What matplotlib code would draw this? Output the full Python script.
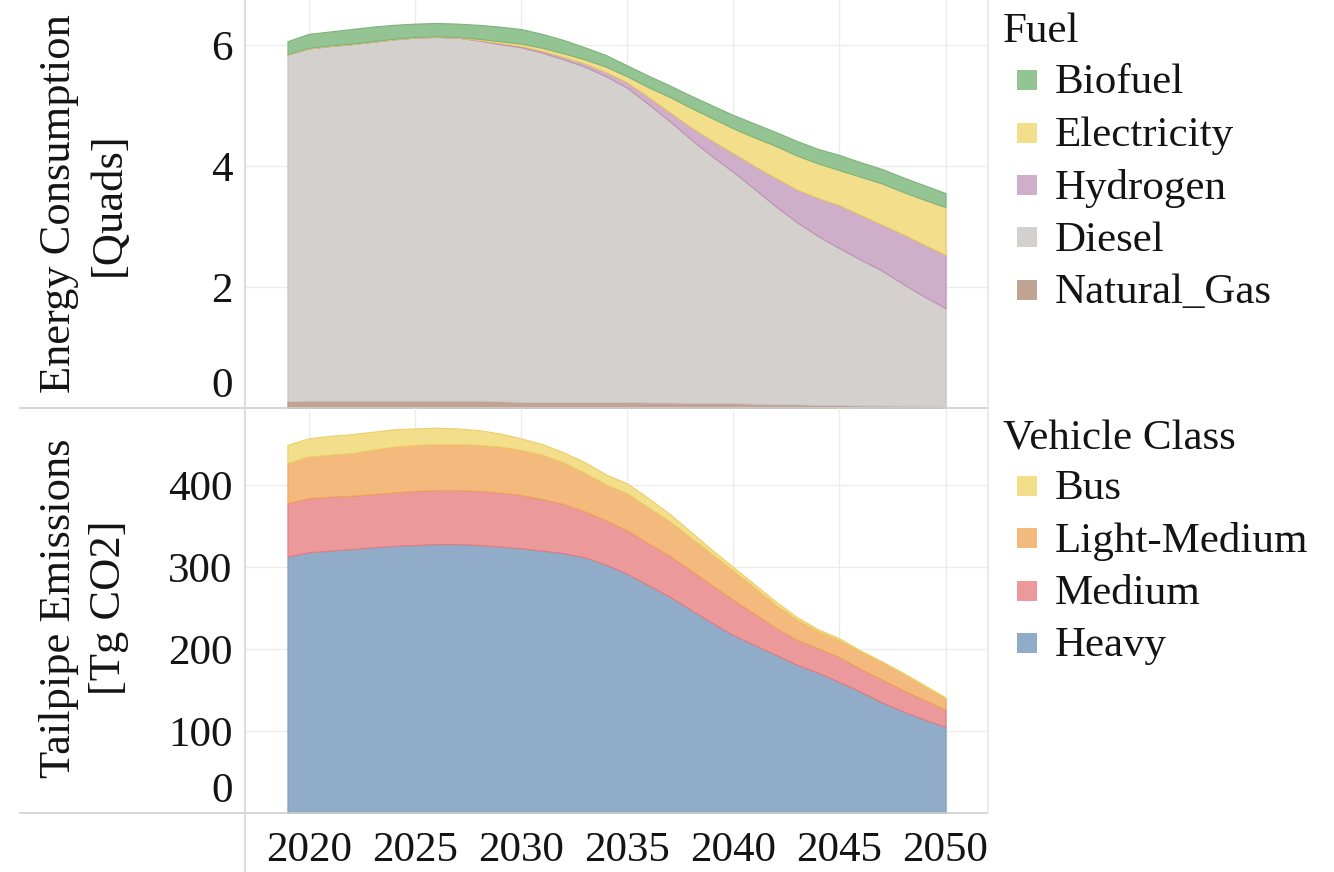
import matplotlib
matplotlib.use('Agg')
import matplotlib.pyplot as plt
from matplotlib.patches import Rectangle
from matplotlib.lines import Line2D
from matplotlib.transforms import ScaledTranslation
import numpy as np

years = list(range(2019, 2051))

# Energy consumption by fuel [Quads]
natural_gas = [0.11, 0.12, 0.12, 0.12, 0.12, 0.12, 0.12, 0.12, 0.12, 0.12, 0.11,
               0.10, 0.10, 0.10, 0.10, 0.10, 0.10, 0.09, 0.09, 0.08, 0.08, 0.08,
               0.07, 0.06, 0.06, 0.05, 0.05, 0.04, 0.04, 0.03, 0.03, 0.02]
diesel = [5.73, 5.82, 5.86, 5.89, 5.93, 5.97, 6.00, 6.01, 6.00, 5.95, 5.90,
          5.86, 5.77, 5.66, 5.54, 5.38, 5.19, 4.93, 4.65, 4.36, 4.08, 3.82,
          3.55, 3.27, 3.01, 2.79, 2.59, 2.41, 2.23, 2.02, 1.81, 1.63]
hydrogen = [0.0, 0.0, 0.0, 0.0, 0.0, 0.0, 0.0, 0.0, 0.0, 0.01, 0.02,
            0.02, 0.03, 0.04, 0.05, 0.07, 0.09, 0.12, 0.15, 0.20, 0.26, 0.31,
            0.38, 0.47, 0.54, 0.63, 0.71, 0.74, 0.76, 0.82, 0.86, 0.88]
electricity = [0.01, 0.01, 0.01, 0.01, 0.01, 0.01, 0.01, 0.01, 0.01, 0.02, 0.03,
               0.04, 0.05, 0.06, 0.07, 0.09, 0.10, 0.16, 0.25, 0.32, 0.37, 0.41,
               0.47, 0.53, 0.56, 0.57, 0.58, 0.63, 0.68, 0.70, 0.74, 0.79]
biofuel = [0.21, 0.23, 0.23, 0.24, 0.24, 0.23, 0.22, 0.22, 0.22, 0.23, 0.24,
           0.24, 0.23, 0.22, 0.20, 0.19, 0.18, 0.19, 0.19, 0.20, 0.21, 0.22,
           0.23, 0.23, 0.24, 0.24, 0.25, 0.24, 0.24, 0.24, 0.24, 0.23]

# Tailpipe emissions by vehicle class [Tg CO2]
heavy = [313, 318, 320, 322, 324, 326, 327, 328, 328, 327, 325,
         323, 320, 317, 312, 303, 292, 278, 264, 248, 232, 217,
         205, 193, 181, 171, 160, 148, 135, 124, 114, 105]
medium = [65, 66, 66, 65, 65, 65, 66, 66, 66, 66, 66,
          65, 63, 60, 56, 54, 53, 51, 50, 48, 46, 43,
          38, 33, 30, 30, 30, 28, 28, 26, 24, 21]
light_medium = [49, 51, 51, 52, 54, 56, 56, 56, 56, 56, 56,
                55, 54, 51, 47, 44, 45, 44, 42, 40, 38, 36,
                32, 28, 25, 21, 21, 21, 21, 20, 17, 14]
bus = [22, 22, 23, 23, 22, 21, 20, 20, 19, 18, 16,
       14, 13, 12, 13, 12, 12, 11, 9, 7, 5, 4,
       4, 4, 3, 2, 2, 1, 1, 1, 1, 1]

fuel_names = ['Biofuel', 'Electricity', 'Hydrogen', 'Diesel', 'Natural_Gas']
fuel_colors = ['#94c493', '#f3de8c', '#cfaec9', '#d4d0cd', '#c0a393']
fuel_edges = ['#7db37b', '#e9c964', '#bb93b4', '#c9c3c0', '#b08f7e']

class_names = ['Bus', 'Light-Medium', 'Medium', 'Heavy']
class_colors = ['#f3de8c', '#f4b97c', '#ec999b', '#91acc9']
class_edges = ['#ebcf68', '#f0a55a', '#e07c80', '#7f9cbd']

xticks = [2020, 2025, 2030, 2035, 2040, 2045, 2050]

W, H = 1334, 872
txt = '#141414'
font = 'Liberation Serif'
fs = 31

plt.rcParams['font.family'] = font
fig = plt.figure(figsize=(W / 100, H / 100), dpi=100)

ax1 = fig.add_axes([245 / W, 1 - 408 / H, 743 / W, 408 / H])
ax2 = fig.add_axes([245 / W, 1 - 813 / H, 743 / W, 405 / H])

top_series = [natural_gas, diesel, hydrogen, electricity, biofuel]
polys = ax1.stackplot(years, *top_series, colors=fuel_colors[::-1], linewidth=0.8)
for p, ec in zip(polys, fuel_edges[::-1]):
    p.set_edgecolor(ec)

bot_series = [heavy, medium, light_medium, bus]
polys = ax2.stackplot(years, *bot_series, colors=class_colors[::-1], linewidth=0.8)
for p, ec in zip(polys, class_edges[::-1]):
    p.set_edgecolor(ec)

ax1.set_ylim(0, 6.74)
ax2.set_ylim(0, 494)
ax1.set_yticks([0, 2, 4, 6])
ax2.set_yticks([0, 100, 200, 300, 400])

for ax in (ax1, ax2):
    ax.set_xlim(2017, 2052)
    ax.set_xticks(xticks)
    ax.grid(True, color='#ececec', linewidth=1)
    ax.set_axisbelow(True)
    for s in ax.spines.values():
        s.set_visible(False)
    ax.tick_params(length=0, labelsize=fs, labelcolor=txt)
    ax.tick_params(axis='y', pad=9)
    ax.tick_params(axis='x', pad=13)
    ax.patch.set_alpha(0)

ax1.tick_params(axis='x', labelbottom=False)

# lift the zero labels inside the panels
shift = ScaledTranslation(0, 0.26, fig.dpi_scale_trans)
for ax in (ax1, ax2):
    lab = ax.get_yticklabels()[0]
    lab.set_transform(lab.get_transform() + shift)

# panel frame lines
line_kw = dict(transform=fig.transFigure, linewidth=1.2)
fig.lines.append(Line2D([20 / W, 988 / W], [1 - 408 / H] * 2, color='#d0d0d0', **line_kw))
fig.lines.append(Line2D([20 / W, 988 / W], [1 - 813 / H] * 2, color='#d0d0d0', **line_kw))
fig.lines.append(Line2D([245 / W] * 2, [0, 1], color='#d6d6d6', **line_kw))
fig.lines.append(Line2D([988 / W] * 2, [1 - 813 / H, 1], color='#e6e6e6', **line_kw))

# axis titles
fig.text(84 / W, 1 - 204 / H, 'Energy Consumption\n[Quads]', rotation=90,
         ha='center', va='center', fontsize=fs + 1, color=txt, linespacing=1.3)
fig.text(84 / W, 1 - 608 / H, 'Tailpipe Emissions\n[Tg CO2]', rotation=90,
         ha='center', va='center', fontsize=fs + 1, color=txt, linespacing=1.3)


def draw_legend(title, names, colors, y_title, y0, step):
    fig.text(1003 / W, 1 - (y_title + 3) / H, title, ha='left', va='center',
             fontsize=fs, color=txt)
    for i, (n, c) in enumerate(zip(names, colors)):
        yc = y0 + i * step
        fig.patches.append(Rectangle((1017 / W, 1 - (yc + 10) / H), 20 / W, 20 / H,
                                     transform=fig.transFigure, facecolor=c,
                                     edgecolor='none'))
        fig.text(1055 / W, 1 - (yc + 3) / H, n, ha='left', va='center',
                 fontsize=fs, color=txt)


draw_legend('Fuel', fuel_names, fuel_colors, 29, 80, 52.5)
draw_legend('Vehicle Class', class_names, class_colors, 436, 486, 52.3)

fig.savefig('out.png', dpi=100)
